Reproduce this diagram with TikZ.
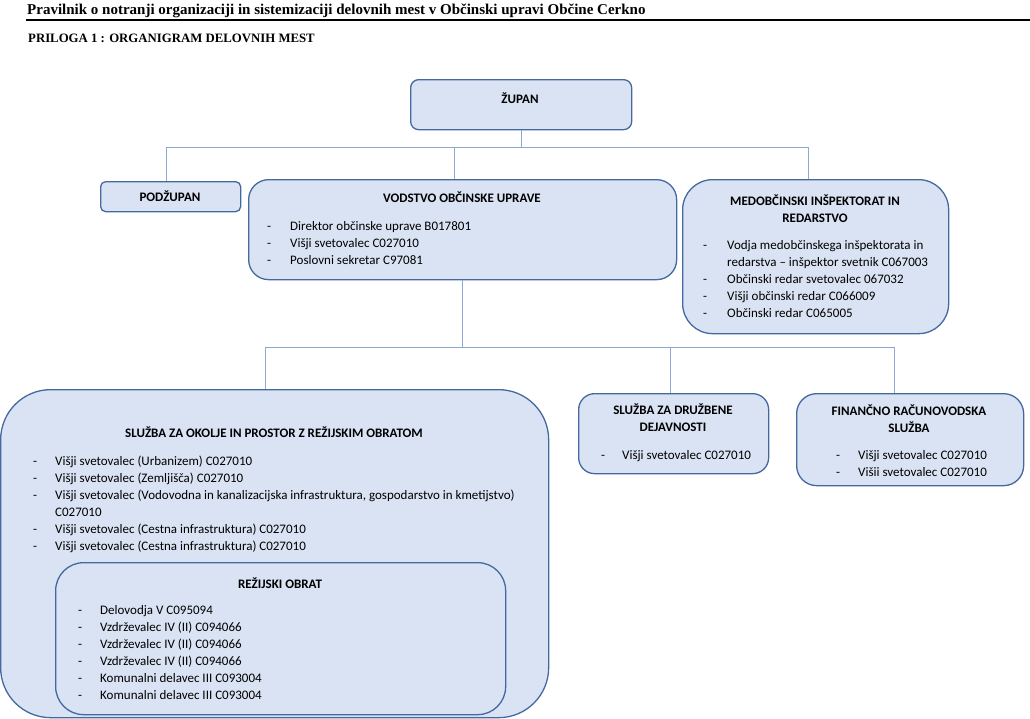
\documentclass[tikz,border=0pt]{standalone}
\usepackage{fontspec}
\setmainfont{Carlito}
\newfontfamily\headfont{Liberation Serif}
\usetikzlibrary{positioning}

\definecolor{boxfill}{HTML}{DAE3F3}
\definecolor{boxline}{HTML}{44699F}
\definecolor{connline}{HTML}{8EA8D6}

\begin{document}
\begin{tikzpicture}[x=1pt,y=-1pt,
    unit/.style={draw=boxline, fill=boxfill, line width=1.3pt, inner sep=0pt, anchor=north west},
    conn/.style={draw=connline, line width=1pt},
    head/.style={font=\bfseries\fontsize{13}{17}\selectfont, align=center, inner sep=0pt},
    items/.style={font=\fontsize{13}{17}\selectfont, anchor=base west, inner sep=0pt}]
    \useasboundingbox (0,0) rectangle (1030,718);

    % header
    \node[anchor=base west, inner sep=0pt, font=\headfont\bfseries\fontsize{15}{18}\selectfont] (doctitle) at (27,14) {Pravilnik o notranji organizaciji in sistemizaciji delovnih mest v Občinski upravi Občine Cerkno};
    \draw[line width=2pt] (26,20) -- (1030,20);
    \node[anchor=base west, inner sep=0pt, font=\headfont\bfseries\fontsize{12.8}{15}\selectfont] (priloga) at (28,42) {PRILOGA 1 : ORGANIGRAM DELOVNIH MEST};

    % boxes
    \node[unit, rounded corners=8pt, minimum width=221pt, minimum height=50pt] (zupan) at (410,79) {};
    \node[unit, rounded corners=5pt, minimum width=140pt, minimum height=30pt] (podzupan) at (100,181) {};
    \node[unit, rounded corners=20pt, minimum width=428pt, minimum height=100pt] (vodstvo) at (248,179) {};
    \node[unit, rounded corners=30pt, minimum width=266pt, minimum height=154pt] (medob) at (682,179) {};
    \node[unit, rounded corners=50pt, minimum width=548pt, minimum height=328pt] (okolje) at (0,389) {};
    \node[unit, rounded corners=28pt, minimum width=450pt, minimum height=152pt] (rezijski) at (55,562) {};
    \node[unit, rounded corners=16pt, minimum width=190pt, minimum height=80pt] (druzbene) at (578,393) {};
    \node[unit, rounded corners=20pt, minimum width=227pt, minimum height=92pt] (financno) at (796,393) {};

    % connectors
    \coordinate (busA) at (0,147);
    \coordinate (busB) at (0,347);
    \draw[conn] (zupan.south) -- (zupan.south |- busA);
    \draw[conn] ([xshift=-4pt]podzupan.north) -- ([xshift=-4pt]podzupan.north |- busA) -- ([xshift=-7pt]medob.north |- busA) -- ([xshift=-7pt]medob.north);
    \draw[conn] ([xshift=-8pt]vodstvo.north) -- ([xshift=-8pt]vodstvo.north |- busA);
    \draw[conn] (vodstvo.south) -- (vodstvo.south |- busB);
    \draw[conn] ([xshift=-9pt]okolje.north) -- ([xshift=-9pt]okolje.north |- busB) -- ([xshift=-16pt]financno.north |- busB) -- ([xshift=-16pt]financno.north);
    \draw[conn] ([xshift=-3pt]druzbene.north) -- ([xshift=-3pt]druzbene.north |- busB);

    % texts
    \node[head] (zupanhead) at (520,98) {ŽUPAN};
    \node[head] (podzupanhead) at (170,196) {PODŽUPAN};

    \node[head] (vodstvohead) at (462,197) {VODSTVO OBČINSKE UPRAVE};
    \node[items] (vodstvoitems) at (267,230) {\begin{tabular}[t]{@{}p{23pt}@{}l@{}}
        - & Direktor občinske uprave B017801\\
        - & Višji svetovalec C027010\\
        - & Poslovni sekretar C97081
    \end{tabular}};

    \node[head] (medobhead) at (815,209) {MEDOBČINSKI INŠPEKTORAT IN\\REDARSTVO};
    \node[items] (medobitems) at (703,249) {\begin{tabular}[t]{@{}p{24pt}@{}l@{}}
        - & Vodja medobčinskega inšpektorata in\\
          & redarstva – inšpektor svetnik C067003\\
        - & Občinski redar svetovalec 067032\\
        - & Višji občinski redar C066009\\
        - & Občinski redar C065005
    \end{tabular}};

    \node[head] (okoljehead) at (274,432) {SLUŽBA ZA OKOLJE IN PROSTOR Z REŽIJSKIM OBRATOM};
    \node[items] (okoljeitems) at (33,465) {\begin{tabular}[t]{@{}p{22pt}@{}l@{}}
        - & Višji svetovalec (Urbanizem) C027010\\
        - & Višji svetovalec (Zemljišča) C027010\\
        - & Višji svetovalec (Vodovodna in kanalizacijska infrastruktura, gospodarstvo in kmetijstvo)\\
          & C027010\\
        - & Višji svetovalec (Cestna infrastruktura) C027010\\
        - & Višji svetovalec (Cestna infrastruktura) C027010
    \end{tabular}};

    \node[head] (rezijskihead) at (280,583) {REŽIJSKI OBRAT};
    \node[items] (rezijskiitems) at (78,614) {\begin{tabular}[t]{@{}p{22pt}@{}l@{}}
        - & Delovodja V C095094\\
        - & Vzdrževalec IV (II) C094066\\
        - & Vzdrževalec IV (II) C094066\\
        - & Vzdrževalec IV (II) C094066\\
        - & Komunalni delavec III C093004\\
        - & Komunalni delavec III C093004
    \end{tabular}};

    \node[head] (druzbenehead) at (673,418) {SLUŽBA ZA DRUŽBENE\\DEJAVNOSTI};
    \node[items] (druzbeneitems) at (601,459) {\begin{tabular}[t]{@{}p{21pt}@{}l@{}}
        - & Višji svetovalec C027010
    \end{tabular}};

    \node[head] (financnohead) at (909,419) {FINANČNO RAČUNOVODSKA\\SLUŽBA};
    \node[items] (financnoitems) at (836,459) {\begin{tabular}[t]{@{}p{22pt}@{}l@{}}
        - & Višji svetovalec C027010\\
        - & Višii svetovalec C027010
    \end{tabular}};
\end{tikzpicture}
\end{document}
